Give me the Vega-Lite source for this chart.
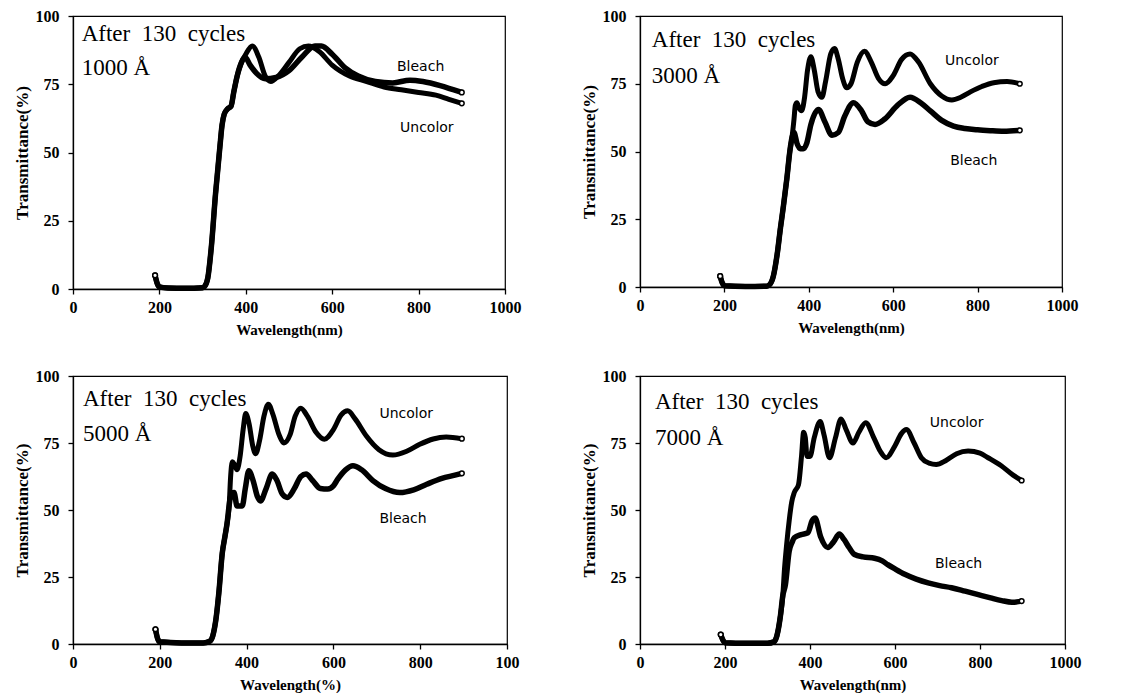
{
  "$schema": "https://vega.github.io/schema/vega-lite/v6.json",
  "background": "white",
  "padding": {"left": 12, "top": 7, "right": 0, "bottom": 0},
  "config": {
    "view": {"stroke": "black", "strokeWidth": 1.2},
    "axis": {
      "grid": false, "domainColor": "black", "domainWidth": 1.3, "tickColor": "black", "tickSize": 5, "tickWidth": 1.3,
      "labelFont": "Liberation Serif", "labelFontWeight": "bold", "labelFontSize": 16, "labelColor": "black",
      "titleFont": "Liberation Serif", "titleFontWeight": "bold", "titleFontSize": 15, "titleColor": "black", "format": "d"
    },
    "axisX": {"labelPadding": 5, "titlePadding": 7, "labelFlush": false, "labelOverlap": false},
    "axisY": {"labelPadding": 9, "titlePadding": 4, "titleFontSize": 17, "labelOverlap": false}
  },
  "datasets": {
    "curves": [
      {"p":"1000","s":"Uncolor","nm":190,"T":5},{"p":"1000","s":"Uncolor","nm":195,"T":2},{"p":"1000","s":"Uncolor","nm":200,"T":0.8},{"p":"1000","s":"Uncolor","nm":220,"T":0.4},{"p":"1000","s":"Uncolor","nm":260,"T":0.3},{"p":"1000","s":"Uncolor","nm":300,"T":0.5},{"p":"1000","s":"Uncolor","nm":305,"T":1},{"p":"1000","s":"Uncolor","nm":312,"T":4},{"p":"1000","s":"Uncolor","nm":320,"T":15},{"p":"1000","s":"Uncolor","nm":330,"T":35},{"p":"1000","s":"Uncolor","nm":340,"T":52},{"p":"1000","s":"Uncolor","nm":345,"T":60},{"p":"1000","s":"Uncolor","nm":350,"T":64},{"p":"1000","s":"Uncolor","nm":358,"T":66},{"p":"1000","s":"Uncolor","nm":366,"T":67},{"p":"1000","s":"Uncolor","nm":372,"T":72},{"p":"1000","s":"Uncolor","nm":380,"T":78},{"p":"1000","s":"Uncolor","nm":390,"T":83},{"p":"1000","s":"Uncolor","nm":400,"T":86},{"p":"1000","s":"Uncolor","nm":415,"T":89},{"p":"1000","s":"Uncolor","nm":430,"T":85},{"p":"1000","s":"Uncolor","nm":445,"T":78},{"p":"1000","s":"Uncolor","nm":458,"T":76},{"p":"1000","s":"Uncolor","nm":475,"T":78},{"p":"1000","s":"Uncolor","nm":500,"T":83},{"p":"1000","s":"Uncolor","nm":525,"T":88},{"p":"1000","s":"Uncolor","nm":545,"T":89},{"p":"1000","s":"Uncolor","nm":570,"T":87},{"p":"1000","s":"Uncolor","nm":600,"T":82},{"p":"1000","s":"Uncolor","nm":640,"T":78},{"p":"1000","s":"Uncolor","nm":680,"T":76},{"p":"1000","s":"Uncolor","nm":720,"T":74},{"p":"1000","s":"Uncolor","nm":760,"T":73},{"p":"1000","s":"Uncolor","nm":800,"T":72},{"p":"1000","s":"Uncolor","nm":840,"T":71},{"p":"1000","s":"Uncolor","nm":870,"T":69.5},{"p":"1000","s":"Uncolor","nm":900,"T":68},
      {"p":"1000","s":"Bleach","nm":190,"T":5},{"p":"1000","s":"Bleach","nm":195,"T":2},{"p":"1000","s":"Bleach","nm":200,"T":0.8},{"p":"1000","s":"Bleach","nm":220,"T":0.4},{"p":"1000","s":"Bleach","nm":260,"T":0.3},{"p":"1000","s":"Bleach","nm":300,"T":0.5},{"p":"1000","s":"Bleach","nm":305,"T":1},{"p":"1000","s":"Bleach","nm":312,"T":4},{"p":"1000","s":"Bleach","nm":320,"T":15},{"p":"1000","s":"Bleach","nm":330,"T":35},{"p":"1000","s":"Bleach","nm":340,"T":52},{"p":"1000","s":"Bleach","nm":345,"T":60},{"p":"1000","s":"Bleach","nm":350,"T":64},{"p":"1000","s":"Bleach","nm":358,"T":66},{"p":"1000","s":"Bleach","nm":366,"T":67},{"p":"1000","s":"Bleach","nm":372,"T":72},{"p":"1000","s":"Bleach","nm":380,"T":78},{"p":"1000","s":"Bleach","nm":390,"T":83},{"p":"1000","s":"Bleach","nm":398,"T":85},{"p":"1000","s":"Bleach","nm":410,"T":82},{"p":"1000","s":"Bleach","nm":425,"T":79},{"p":"1000","s":"Bleach","nm":445,"T":77},{"p":"1000","s":"Bleach","nm":470,"T":77.5},{"p":"1000","s":"Bleach","nm":500,"T":80},{"p":"1000","s":"Bleach","nm":530,"T":85},{"p":"1000","s":"Bleach","nm":560,"T":89},{"p":"1000","s":"Bleach","nm":575,"T":89},{"p":"1000","s":"Bleach","nm":600,"T":86},{"p":"1000","s":"Bleach","nm":630,"T":81},{"p":"1000","s":"Bleach","nm":660,"T":78},{"p":"1000","s":"Bleach","nm":700,"T":76},{"p":"1000","s":"Bleach","nm":740,"T":75.5},{"p":"1000","s":"Bleach","nm":780,"T":76.5},{"p":"1000","s":"Bleach","nm":810,"T":76},{"p":"1000","s":"Bleach","nm":850,"T":74.5},{"p":"1000","s":"Bleach","nm":880,"T":73},{"p":"1000","s":"Bleach","nm":900,"T":72},

      {"p":"3000","s":"Uncolor","nm":190,"T":4},{"p":"3000","s":"Uncolor","nm":195,"T":1.5},{"p":"3000","s":"Uncolor","nm":200,"T":0.5},{"p":"3000","s":"Uncolor","nm":250,"T":0.2},{"p":"3000","s":"Uncolor","nm":300,"T":0.3},{"p":"3000","s":"Uncolor","nm":308,"T":1},{"p":"3000","s":"Uncolor","nm":316,"T":4},{"p":"3000","s":"Uncolor","nm":325,"T":12},{"p":"3000","s":"Uncolor","nm":333,"T":22},{"p":"3000","s":"Uncolor","nm":340,"T":30},{"p":"3000","s":"Uncolor","nm":348,"T":40},{"p":"3000","s":"Uncolor","nm":355,"T":50},{"p":"3000","s":"Uncolor","nm":360,"T":55},{"p":"3000","s":"Uncolor","nm":365,"T":62},{"p":"3000","s":"Uncolor","nm":368,"T":67},{"p":"3000","s":"Uncolor","nm":372,"T":68},{"p":"3000","s":"Uncolor","nm":377,"T":66},{"p":"3000","s":"Uncolor","nm":383,"T":65},{"p":"3000","s":"Uncolor","nm":390,"T":70},{"p":"3000","s":"Uncolor","nm":397,"T":80},{"p":"3000","s":"Uncolor","nm":405,"T":85},{"p":"3000","s":"Uncolor","nm":413,"T":80},{"p":"3000","s":"Uncolor","nm":422,"T":72},{"p":"3000","s":"Uncolor","nm":431,"T":70},{"p":"3000","s":"Uncolor","nm":440,"T":76},{"p":"3000","s":"Uncolor","nm":452,"T":86},{"p":"3000","s":"Uncolor","nm":461,"T":88},{"p":"3000","s":"Uncolor","nm":470,"T":84},{"p":"3000","s":"Uncolor","nm":480,"T":77},{"p":"3000","s":"Uncolor","nm":490,"T":73.5},{"p":"3000","s":"Uncolor","nm":500,"T":75},{"p":"3000","s":"Uncolor","nm":515,"T":83},{"p":"3000","s":"Uncolor","nm":532,"T":87},{"p":"3000","s":"Uncolor","nm":548,"T":83},{"p":"3000","s":"Uncolor","nm":565,"T":77},{"p":"3000","s":"Uncolor","nm":581,"T":75},{"p":"3000","s":"Uncolor","nm":600,"T":78},{"p":"3000","s":"Uncolor","nm":620,"T":84},{"p":"3000","s":"Uncolor","nm":640,"T":86},{"p":"3000","s":"Uncolor","nm":660,"T":83},{"p":"3000","s":"Uncolor","nm":688,"T":75},{"p":"3000","s":"Uncolor","nm":715,"T":70.5},{"p":"3000","s":"Uncolor","nm":739,"T":69},{"p":"3000","s":"Uncolor","nm":760,"T":70},{"p":"3000","s":"Uncolor","nm":783,"T":72},{"p":"3000","s":"Uncolor","nm":810,"T":74},{"p":"3000","s":"Uncolor","nm":838,"T":75.4},{"p":"3000","s":"Uncolor","nm":870,"T":75.8},{"p":"3000","s":"Uncolor","nm":900,"T":75},
      {"p":"3000","s":"Bleach","nm":190,"T":4},{"p":"3000","s":"Bleach","nm":195,"T":1.5},{"p":"3000","s":"Bleach","nm":200,"T":0.5},{"p":"3000","s":"Bleach","nm":250,"T":0.2},{"p":"3000","s":"Bleach","nm":300,"T":0.3},{"p":"3000","s":"Bleach","nm":308,"T":1},{"p":"3000","s":"Bleach","nm":316,"T":4},{"p":"3000","s":"Bleach","nm":325,"T":12},{"p":"3000","s":"Bleach","nm":333,"T":22},{"p":"3000","s":"Bleach","nm":340,"T":30},{"p":"3000","s":"Bleach","nm":348,"T":40},{"p":"3000","s":"Bleach","nm":355,"T":50},{"p":"3000","s":"Bleach","nm":360,"T":55},{"p":"3000","s":"Bleach","nm":365,"T":57},{"p":"3000","s":"Bleach","nm":372,"T":53},{"p":"3000","s":"Bleach","nm":380,"T":51},{"p":"3000","s":"Bleach","nm":387,"T":51},{"p":"3000","s":"Bleach","nm":395,"T":53},{"p":"3000","s":"Bleach","nm":405,"T":60},{"p":"3000","s":"Bleach","nm":423,"T":65.5},{"p":"3000","s":"Bleach","nm":438,"T":61},{"p":"3000","s":"Bleach","nm":455,"T":56},{"p":"3000","s":"Bleach","nm":470,"T":57},{"p":"3000","s":"Bleach","nm":485,"T":63},{"p":"3000","s":"Bleach","nm":506,"T":68},{"p":"3000","s":"Bleach","nm":525,"T":65},{"p":"3000","s":"Bleach","nm":540,"T":61},{"p":"3000","s":"Bleach","nm":557,"T":60},{"p":"3000","s":"Bleach","nm":580,"T":62},{"p":"3000","s":"Bleach","nm":610,"T":67},{"p":"3000","s":"Bleach","nm":640,"T":70},{"p":"3000","s":"Bleach","nm":665,"T":68},{"p":"3000","s":"Bleach","nm":688,"T":65},{"p":"3000","s":"Bleach","nm":715,"T":61.5},{"p":"3000","s":"Bleach","nm":743,"T":59.4},{"p":"3000","s":"Bleach","nm":770,"T":58.5},{"p":"3000","s":"Bleach","nm":800,"T":58},{"p":"3000","s":"Bleach","nm":830,"T":57.7},{"p":"3000","s":"Bleach","nm":862,"T":57.5},{"p":"3000","s":"Bleach","nm":900,"T":57.8},

      {"p":"5000","s":"Uncolor","nm":190,"T":5.5},{"p":"5000","s":"Uncolor","nm":195,"T":2},{"p":"5000","s":"Uncolor","nm":200,"T":0.8},{"p":"5000","s":"Uncolor","nm":250,"T":0.4},{"p":"5000","s":"Uncolor","nm":300,"T":0.4},{"p":"5000","s":"Uncolor","nm":315,"T":1},{"p":"5000","s":"Uncolor","nm":322,"T":3},{"p":"5000","s":"Uncolor","nm":330,"T":10},{"p":"5000","s":"Uncolor","nm":336,"T":19},{"p":"5000","s":"Uncolor","nm":344,"T":34},{"p":"5000","s":"Uncolor","nm":350,"T":40},{"p":"5000","s":"Uncolor","nm":355,"T":45},{"p":"5000","s":"Uncolor","nm":360,"T":52},{"p":"5000","s":"Uncolor","nm":363,"T":62},{"p":"5000","s":"Uncolor","nm":367,"T":68},{"p":"5000","s":"Uncolor","nm":372,"T":67},{"p":"5000","s":"Uncolor","nm":378,"T":65},{"p":"5000","s":"Uncolor","nm":385,"T":70},{"p":"5000","s":"Uncolor","nm":392,"T":80},{"p":"5000","s":"Uncolor","nm":398,"T":86},{"p":"5000","s":"Uncolor","nm":406,"T":82},{"p":"5000","s":"Uncolor","nm":414,"T":74},{"p":"5000","s":"Uncolor","nm":421,"T":71},{"p":"5000","s":"Uncolor","nm":430,"T":76},{"p":"5000","s":"Uncolor","nm":440,"T":85},{"p":"5000","s":"Uncolor","nm":450,"T":89.5},{"p":"5000","s":"Uncolor","nm":460,"T":86},{"p":"5000","s":"Uncolor","nm":475,"T":78},{"p":"5000","s":"Uncolor","nm":486,"T":75},{"p":"5000","s":"Uncolor","nm":500,"T":78},{"p":"5000","s":"Uncolor","nm":512,"T":85},{"p":"5000","s":"Uncolor","nm":525,"T":88},{"p":"5000","s":"Uncolor","nm":540,"T":85},{"p":"5000","s":"Uncolor","nm":560,"T":79},{"p":"5000","s":"Uncolor","nm":579,"T":76.4},{"p":"5000","s":"Uncolor","nm":600,"T":80},{"p":"5000","s":"Uncolor","nm":618,"T":85.5},{"p":"5000","s":"Uncolor","nm":633,"T":87},{"p":"5000","s":"Uncolor","nm":650,"T":84},{"p":"5000","s":"Uncolor","nm":676,"T":77.6},{"p":"5000","s":"Uncolor","nm":705,"T":72.5},{"p":"5000","s":"Uncolor","nm":737,"T":70.5},{"p":"5000","s":"Uncolor","nm":770,"T":72},{"p":"5000","s":"Uncolor","nm":799,"T":74.5},{"p":"5000","s":"Uncolor","nm":830,"T":76.5},{"p":"5000","s":"Uncolor","nm":860,"T":77.2},{"p":"5000","s":"Uncolor","nm":896,"T":76.6},
      {"p":"5000","s":"Bleach","nm":190,"T":5.5},{"p":"5000","s":"Bleach","nm":195,"T":2},{"p":"5000","s":"Bleach","nm":200,"T":0.8},{"p":"5000","s":"Bleach","nm":250,"T":0.4},{"p":"5000","s":"Bleach","nm":300,"T":0.4},{"p":"5000","s":"Bleach","nm":315,"T":1},{"p":"5000","s":"Bleach","nm":322,"T":3},{"p":"5000","s":"Bleach","nm":330,"T":10},{"p":"5000","s":"Bleach","nm":336,"T":19},{"p":"5000","s":"Bleach","nm":344,"T":34},{"p":"5000","s":"Bleach","nm":350,"T":40},{"p":"5000","s":"Bleach","nm":355,"T":45},{"p":"5000","s":"Bleach","nm":360,"T":52},{"p":"5000","s":"Bleach","nm":363,"T":55},{"p":"5000","s":"Bleach","nm":371,"T":56.5},{"p":"5000","s":"Bleach","nm":378,"T":51.5},{"p":"5000","s":"Bleach","nm":390,"T":51.5},{"p":"5000","s":"Bleach","nm":397,"T":58},{"p":"5000","s":"Bleach","nm":405,"T":64.6},{"p":"5000","s":"Bleach","nm":415,"T":61},{"p":"5000","s":"Bleach","nm":425,"T":55},{"p":"5000","s":"Bleach","nm":432,"T":53.4},{"p":"5000","s":"Bleach","nm":445,"T":58},{"p":"5000","s":"Bleach","nm":459,"T":63.4},{"p":"5000","s":"Bleach","nm":470,"T":61},{"p":"5000","s":"Bleach","nm":482,"T":56},{"p":"5000","s":"Bleach","nm":494,"T":54.7},{"p":"5000","s":"Bleach","nm":510,"T":58},{"p":"5000","s":"Bleach","nm":525,"T":62.5},{"p":"5000","s":"Bleach","nm":537,"T":63.4},{"p":"5000","s":"Bleach","nm":552,"T":61},{"p":"5000","s":"Bleach","nm":570,"T":58},{"p":"5000","s":"Bleach","nm":587,"T":57.8},{"p":"5000","s":"Bleach","nm":600,"T":59},{"p":"5000","s":"Bleach","nm":610,"T":61.5},{"p":"5000","s":"Bleach","nm":628,"T":65},{"p":"5000","s":"Bleach","nm":645,"T":66.5},{"p":"5000","s":"Bleach","nm":665,"T":65},{"p":"5000","s":"Bleach","nm":691,"T":61},{"p":"5000","s":"Bleach","nm":720,"T":58},{"p":"5000","s":"Bleach","nm":753,"T":56.5},{"p":"5000","s":"Bleach","nm":785,"T":57.5},{"p":"5000","s":"Bleach","nm":815,"T":59.6},{"p":"5000","s":"Bleach","nm":850,"T":61.8},{"p":"5000","s":"Bleach","nm":880,"T":63},{"p":"5000","s":"Bleach","nm":896,"T":63.7},

      {"p":"7000","s":"Uncolor","nm":190,"T":3.5},{"p":"7000","s":"Uncolor","nm":195,"T":1.5},{"p":"7000","s":"Uncolor","nm":200,"T":0.5},{"p":"7000","s":"Uncolor","nm":250,"T":0.3},{"p":"7000","s":"Uncolor","nm":300,"T":0.3},{"p":"7000","s":"Uncolor","nm":315,"T":0.8},{"p":"7000","s":"Uncolor","nm":322,"T":3},{"p":"7000","s":"Uncolor","nm":330,"T":10},{"p":"7000","s":"Uncolor","nm":336,"T":18},{"p":"7000","s":"Uncolor","nm":340,"T":28},{"p":"7000","s":"Uncolor","nm":345,"T":37},{"p":"7000","s":"Uncolor","nm":351,"T":46},{"p":"7000","s":"Uncolor","nm":357,"T":53},{"p":"7000","s":"Uncolor","nm":363,"T":56.5},{"p":"7000","s":"Uncolor","nm":373,"T":59.5},{"p":"7000","s":"Uncolor","nm":380,"T":70},{"p":"7000","s":"Uncolor","nm":385,"T":79},{"p":"7000","s":"Uncolor","nm":389,"T":77},{"p":"7000","s":"Uncolor","nm":393,"T":70},{"p":"7000","s":"Uncolor","nm":400,"T":70},{"p":"7000","s":"Uncolor","nm":410,"T":77},{"p":"7000","s":"Uncolor","nm":424,"T":83},{"p":"7000","s":"Uncolor","nm":433,"T":78},{"p":"7000","s":"Uncolor","nm":446,"T":69.5},{"p":"7000","s":"Uncolor","nm":460,"T":77},{"p":"7000","s":"Uncolor","nm":473,"T":84},{"p":"7000","s":"Uncolor","nm":485,"T":80},{"p":"7000","s":"Uncolor","nm":501,"T":75},{"p":"7000","s":"Uncolor","nm":515,"T":79},{"p":"7000","s":"Uncolor","nm":531,"T":82.6},{"p":"7000","s":"Uncolor","nm":550,"T":77},{"p":"7000","s":"Uncolor","nm":565,"T":72},{"p":"7000","s":"Uncolor","nm":579,"T":69.5},{"p":"7000","s":"Uncolor","nm":600,"T":74},{"p":"7000","s":"Uncolor","nm":615,"T":78.5},{"p":"7000","s":"Uncolor","nm":627,"T":80},{"p":"7000","s":"Uncolor","nm":645,"T":75},{"p":"7000","s":"Uncolor","nm":662,"T":69.5},{"p":"7000","s":"Uncolor","nm":680,"T":67.5},{"p":"7000","s":"Uncolor","nm":697,"T":67},{"p":"7000","s":"Uncolor","nm":720,"T":68.5},{"p":"7000","s":"Uncolor","nm":745,"T":71},{"p":"7000","s":"Uncolor","nm":772,"T":72},{"p":"7000","s":"Uncolor","nm":800,"T":71.2},{"p":"7000","s":"Uncolor","nm":819,"T":69.5},{"p":"7000","s":"Uncolor","nm":850,"T":66.5},{"p":"7000","s":"Uncolor","nm":878,"T":63},{"p":"7000","s":"Uncolor","nm":898,"T":61},
      {"p":"7000","s":"Bleach","nm":190,"T":3.5},{"p":"7000","s":"Bleach","nm":195,"T":1.5},{"p":"7000","s":"Bleach","nm":200,"T":0.5},{"p":"7000","s":"Bleach","nm":250,"T":0.3},{"p":"7000","s":"Bleach","nm":300,"T":0.3},{"p":"7000","s":"Bleach","nm":315,"T":0.8},{"p":"7000","s":"Bleach","nm":322,"T":3},{"p":"7000","s":"Bleach","nm":330,"T":10},{"p":"7000","s":"Bleach","nm":336,"T":18},{"p":"7000","s":"Bleach","nm":342,"T":22},{"p":"7000","s":"Bleach","nm":351,"T":34.6},{"p":"7000","s":"Bleach","nm":358,"T":38},{"p":"7000","s":"Bleach","nm":363,"T":39.6},{"p":"7000","s":"Bleach","nm":379,"T":40.8},{"p":"7000","s":"Bleach","nm":395,"T":41.5},{"p":"7000","s":"Bleach","nm":405,"T":46},{"p":"7000","s":"Bleach","nm":412,"T":47},{"p":"7000","s":"Bleach","nm":425,"T":40},{"p":"7000","s":"Bleach","nm":442,"T":36},{"p":"7000","s":"Bleach","nm":455,"T":38},{"p":"7000","s":"Bleach","nm":469,"T":41},{"p":"7000","s":"Bleach","nm":480,"T":39},{"p":"7000","s":"Bleach","nm":492,"T":36},{"p":"7000","s":"Bleach","nm":505,"T":33.4},{"p":"7000","s":"Bleach","nm":525,"T":32.5},{"p":"7000","s":"Bleach","nm":552,"T":32},{"p":"7000","s":"Bleach","nm":570,"T":31},{"p":"7000","s":"Bleach","nm":583,"T":29.6},{"p":"7000","s":"Bleach","nm":600,"T":28},{"p":"7000","s":"Bleach","nm":623,"T":26},{"p":"7000","s":"Bleach","nm":650,"T":24.2},{"p":"7000","s":"Bleach","nm":678,"T":22.8},{"p":"7000","s":"Bleach","nm":705,"T":21.8},{"p":"7000","s":"Bleach","nm":733,"T":21},{"p":"7000","s":"Bleach","nm":765,"T":19.7},{"p":"7000","s":"Bleach","nm":796,"T":18.4},{"p":"7000","s":"Bleach","nm":825,"T":17.2},{"p":"7000","s":"Bleach","nm":851,"T":16.2},{"p":"7000","s":"Bleach","nm":875,"T":15.6},{"p":"7000","s":"Bleach","nm":898,"T":16}
    ],
    "labels": [
      {"p":"1000","k":"head","text":"After \u00a0130 \u00a0cycles","nm":20,"T":93.5},
      {"p":"1000","k":"head","text":"1000 Å","nm":20,"T":81},
      {"p":"1000","k":"series","text":"Bleach","nm":750,"T":81.3},
      {"p":"1000","k":"series","text":"Uncolor","nm":757,"T":59},
      {"p":"3000","k":"head","text":"After \u00a0130 \u00a0cycles","nm":28,"T":91},
      {"p":"3000","k":"head","text":"3000 Å","nm":28,"T":78},
      {"p":"3000","k":"series","text":"Uncolor","nm":723,"T":83.4},
      {"p":"3000","k":"series","text":"Bleach","nm":735,"T":46.5},
      {"p":"5000","k":"head","text":"After \u00a0130 \u00a0cycles","nm":23,"T":91.4},
      {"p":"5000","k":"head","text":"5000 Å","nm":23,"T":78.4},
      {"p":"5000","k":"series","text":"Uncolor","nm":706,"T":85.8},
      {"p":"5000","k":"series","text":"Bleach","nm":706,"T":46.6},
      {"p":"7000","k":"head","text":"After \u00a0130 \u00a0cycles","nm":35,"T":90.3},
      {"p":"7000","k":"head","text":"7000 Å","nm":35,"T":76.9},
      {"p":"7000","k":"series","text":"Uncolor","nm":682,"T":82.5},
      {"p":"7000","k":"series","text":"Bleach","nm":694,"T":30}
    ]
  },
  "columns": 2,
  "bounds": "flush",
  "spacing": {"row": 87, "column": 133},
  "concat": [
    {
      "width": 432, "height": 273,
      "encoding": {
        "x": {"field": "nm", "type": "quantitative", "scale": {"domain": [0, 1000], "nice": false, "zero": false}, "axis": {"values": [0,200,400,600,800,1000], "title": "Wavelength(nm)"}},
        "y": {"field": "T", "type": "quantitative", "scale": {"domain": [0, 100], "nice": false}, "axis": {"values": [0,25,50,75,100], "title": "Transmittance(%)"}}
      },
      "layer": [
        {"data": {"name": "curves"}, "transform": [{"filter": "datum.p=='1000'"}], "mark": {"type": "line", "color": "black", "interpolate": "monotone"}, "encoding": {"detail": {"field": "s"}, "strokeWidth": {"field": "s", "type": "nominal", "scale": {"domain": ["Uncolor","Bleach"], "range": [5, 5.5]}, "legend": null}}},
        {"data": {"name": "curves"}, "transform": [{"filter": "datum.p=='1000' && (datum.nm>=895 || datum.nm==190)"}], "mark": {"type": "point", "shape": "circle", "filled": true, "fill": "white", "stroke": "black", "strokeWidth": 1.5, "size": 22, "opacity": 1}},
        {"data": {"name": "labels"}, "transform": [{"filter": "datum.p=='1000' && datum.k=='head'"}], "mark": {"type": "text", "font": "Liberation Serif", "fontSize": 23, "align": "left", "baseline": "middle", "color": "black"}, "encoding": {"text": {"field": "text"}}},
        {"data": {"name": "labels"}, "transform": [{"filter": "datum.p=='1000' && datum.k=='series'"}], "mark": {"type": "text", "font": "DejaVu Sans", "fontSize": 14, "align": "left", "baseline": "middle", "color": "black"}, "encoding": {"text": {"field": "text"}}}
      ]
    },
    {
      "width": 422, "height": 271,
      "encoding": {
        "x": {"field": "nm", "type": "quantitative", "scale": {"domain": [0, 1000], "nice": false, "zero": false}, "axis": {"values": [0,200,400,600,800,1000], "title": "Wavelength(nm)"}},
        "y": {"field": "T", "type": "quantitative", "scale": {"domain": [0, 100], "nice": false}, "axis": {"values": [0,25,50,75,100], "title": "Transmittance(%)"}}
      },
      "layer": [
        {"data": {"name": "curves"}, "transform": [{"filter": "datum.p=='3000'"}], "mark": {"type": "line", "color": "black", "interpolate": "monotone"}, "encoding": {"detail": {"field": "s"}, "strokeWidth": {"field": "s", "type": "nominal", "scale": {"domain": ["Uncolor","Bleach"], "range": [4, 5.5]}, "legend": null}}},
        {"data": {"name": "curves"}, "transform": [{"filter": "datum.p=='3000' && (datum.nm>=895 || datum.nm==190)"}], "mark": {"type": "point", "shape": "circle", "filled": true, "fill": "white", "stroke": "black", "strokeWidth": 1.5, "size": 22, "opacity": 1}},
        {"data": {"name": "labels"}, "transform": [{"filter": "datum.p=='3000' && datum.k=='head'"}], "mark": {"type": "text", "font": "Liberation Serif", "fontSize": 23, "align": "left", "baseline": "middle", "color": "black"}, "encoding": {"text": {"field": "text"}}},
        {"data": {"name": "labels"}, "transform": [{"filter": "datum.p=='3000' && datum.k=='series'"}], "mark": {"type": "text", "font": "DejaVu Sans", "fontSize": 14, "align": "left", "baseline": "middle", "color": "black"}, "encoding": {"text": {"field": "text"}}}
      ]
    },
    {
      "width": 434, "height": 268,
      "encoding": {
        "x": {"field": "nm", "type": "quantitative", "scale": {"domain": [0, 1000], "nice": false, "zero": false}, "axis": {"values": [0,200,400,600,800,1000], "title": "Wavelength(%)", "labelExpr": "datum.value==1000 ? '100' : datum.label"}},
        "y": {"field": "T", "type": "quantitative", "scale": {"domain": [0, 100], "nice": false}, "axis": {"values": [0,25,50,75,100], "title": "Transmittance(%)"}}
      },
      "layer": [
        {"data": {"name": "curves"}, "transform": [{"filter": "datum.p=='5000'"}], "mark": {"type": "line", "color": "black", "interpolate": "monotone"}, "encoding": {"detail": {"field": "s"}, "strokeWidth": {"field": "s", "type": "nominal", "scale": {"domain": ["Uncolor","Bleach"], "range": [4.5, 5.5]}, "legend": null}}},
        {"data": {"name": "curves"}, "transform": [{"filter": "datum.p=='5000' && (datum.nm>=895 || datum.nm==190)"}], "mark": {"type": "point", "shape": "circle", "filled": true, "fill": "white", "stroke": "black", "strokeWidth": 1.5, "size": 22, "opacity": 1}},
        {"data": {"name": "labels"}, "transform": [{"filter": "datum.p=='5000' && datum.k=='head'"}], "mark": {"type": "text", "font": "Liberation Serif", "fontSize": 23, "align": "left", "baseline": "middle", "color": "black"}, "encoding": {"text": {"field": "text"}}},
        {"data": {"name": "labels"}, "transform": [{"filter": "datum.p=='5000' && datum.k=='series'"}], "mark": {"type": "text", "font": "DejaVu Sans", "fontSize": 14, "align": "left", "baseline": "middle", "color": "black"}, "encoding": {"text": {"field": "text"}}}
      ]
    },
    {
      "width": 425, "height": 268,
      "encoding": {
        "x": {"field": "nm", "type": "quantitative", "scale": {"domain": [0, 1000], "nice": false, "zero": false}, "axis": {"values": [0,200,400,600,800,1000], "title": "Wavelength(nm)"}},
        "y": {"field": "T", "type": "quantitative", "scale": {"domain": [0, 100], "nice": false}, "axis": {"values": [0,25,50,75,100], "title": "Transmittance(%)"}}
      },
      "layer": [
        {"data": {"name": "curves"}, "transform": [{"filter": "datum.p=='7000'"}], "mark": {"type": "line", "color": "black", "interpolate": "monotone"}, "encoding": {"detail": {"field": "s"}, "strokeWidth": {"field": "s", "type": "nominal", "scale": {"domain": ["Uncolor","Bleach"], "range": [4.5, 5.5]}, "legend": null}}},
        {"data": {"name": "curves"}, "transform": [{"filter": "datum.p=='7000' && (datum.nm>=895 || datum.nm==190)"}], "mark": {"type": "point", "shape": "circle", "filled": true, "fill": "white", "stroke": "black", "strokeWidth": 1.5, "size": 22, "opacity": 1}},
        {"data": {"name": "labels"}, "transform": [{"filter": "datum.p=='7000' && datum.k=='head'"}], "mark": {"type": "text", "font": "Liberation Serif", "fontSize": 23, "align": "left", "baseline": "middle", "color": "black"}, "encoding": {"text": {"field": "text"}}},
        {"data": {"name": "labels"}, "transform": [{"filter": "datum.p=='7000' && datum.k=='series'"}], "mark": {"type": "text", "font": "DejaVu Sans", "fontSize": 14, "align": "left", "baseline": "middle", "color": "black"}, "encoding": {"text": {"field": "text"}}}
      ]
    }
  ]
}
